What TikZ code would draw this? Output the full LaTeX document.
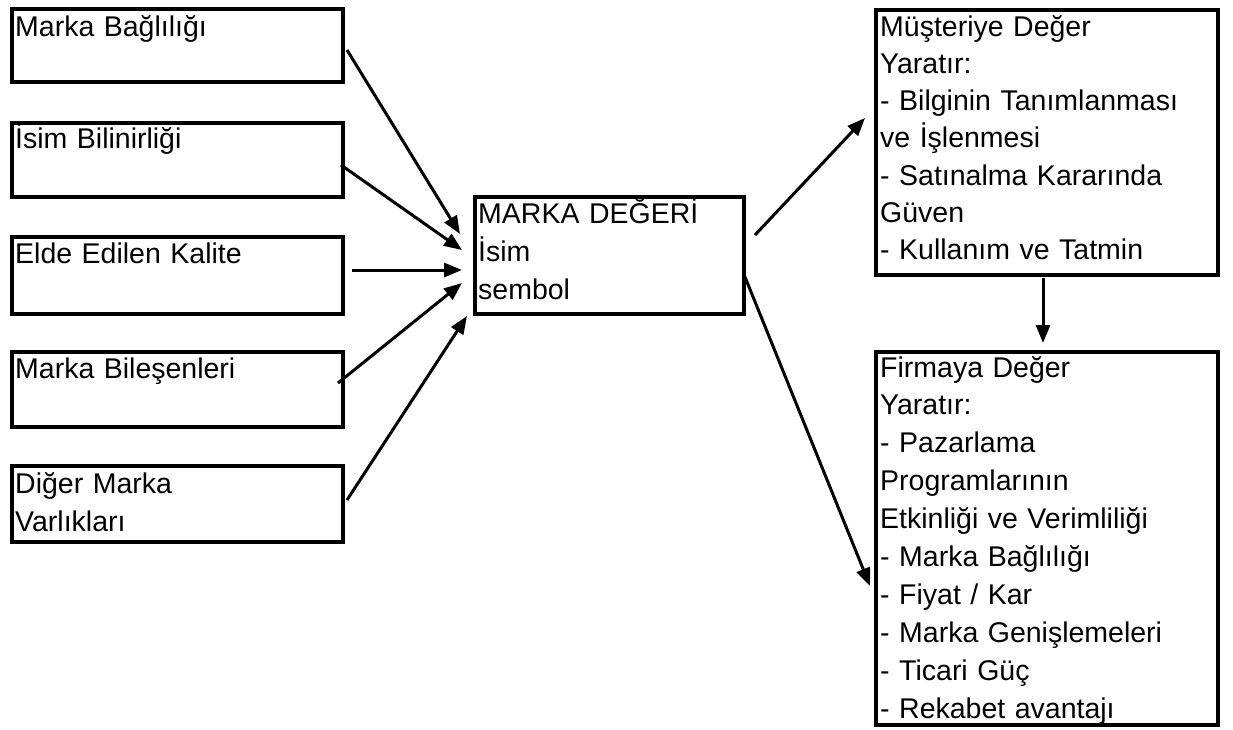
\documentclass[tikz,border=0pt]{standalone}
\usepackage{fontspec}
\setmainfont{Liberation Sans}
\usetikzlibrary{arrows.meta}
\begin{document}
\begin{tikzpicture}[x=1pt,y=-1pt,
  frame/.style={draw, line width=4pt, inner sep=0pt, anchor=north west},
  lbl/.style={anchor=base west, inner sep=0pt, text width=345pt, align=left,
    font=\fontsize{28.5}{37.5}\selectfont},
  conn/.style={line width=3pt, -{Triangle[length=18pt,width=14pt]}}]
\useasboundingbox[fill=white] (0,0) rectangle (1233,729);

% left boxes
\node[frame, minimum width=331pt, minimum height=73pt] (b1) at (10,7) {};
\node[frame, minimum width=331pt, minimum height=74pt] (b2) at (10,121) {};
\node[frame, minimum width=331pt, minimum height=77pt] (b3) at (10,235) {};
\node[frame, minimum width=331pt, minimum height=75pt] (b4) at (10,350) {};
\node[frame, minimum width=331pt, minimum height=76pt] (b5) at (10,464) {};
% centre box
\node[frame, minimum width=269pt, minimum height=117pt] (c) at (473,195) {};
% right boxes
\node[frame, minimum width=342pt, minimum height=265pt] (r1) at (874,8) {};
\node[frame, minimum width=342pt, minimum height=373pt] (r2) at (874,350) {};

% texts
\node[lbl] (t1) at (15,36) {Marka Bağlılığı};
\node[lbl] (t2) at (15,148) {İsim Bilinirliği};
\node[lbl] (t3) at (15,263) {Elde Edilen Kalite};
\node[lbl] (t4) at (15,378) {Marka Bileşenleri};
\node[lbl, font=\fontsize{28.5}{38}\selectfont] (t5) at (15,493) {Diğer Marka\\Varlıkları};
\node[lbl, font=\fontsize{28.5}{38.3}\selectfont] (tc) at (478,223) {MARKA DEĞERİ\\İsim\\sembol};
\node[lbl, font=\fontsize{28.5}{37.33}\selectfont] (tr1) at (880,36) {Müşteriye Değer\\Yaratır:\\- Bilginin Tanımlanması\\ve İşlenmesi\\- Satınalma Kararında\\Güven\\- Kullanım ve Tatmin};
\node[lbl, font=\fontsize{28.5}{37.9}\selectfont] (tr2) at (880,377) {Firmaya Değer\\Yaratır:\\- Pazarlama\\Programlarının\\Etkinliği ve Verimliliği\\- Marka Bağlılığı\\- Fiyat / Kar\\- Marka Genişlemeleri\\- Ticari Güç\\- Rekabet avantajı};

% connector end points
\coordinate (s1) at (347,50);  \coordinate (e1) at (460,234);
\coordinate (s2) at (341,165); \coordinate (e2) at (462,250);
\coordinate (s3) at (352,270); \coordinate (e3) at (462,270);
\coordinate (s4) at (338,383); \coordinate (e4) at (462,283);
\coordinate (s5) at (347,500); \coordinate (e5) at (467,316);
\coordinate (s6) at (755,235); \coordinate (e6) at (865,118);
\coordinate (s7) at (745,277); \coordinate (e7) at (870,586);
\coordinate (s8) at (1043,278); \coordinate (e8) at (1043,343);

\draw[conn] (s1) -- (e1);
\draw[conn] (s2) -- (e2);
\draw[conn] (s3) -- (e3);
\draw[conn] (s4) -- (e4);
\draw[conn] (s5) -- (e5);
\draw[conn] (s6) -- (e6);
\draw[conn] (s7) -- (e7);
\draw[conn] (s8) -- (e8);
\end{tikzpicture}
\end{document}
